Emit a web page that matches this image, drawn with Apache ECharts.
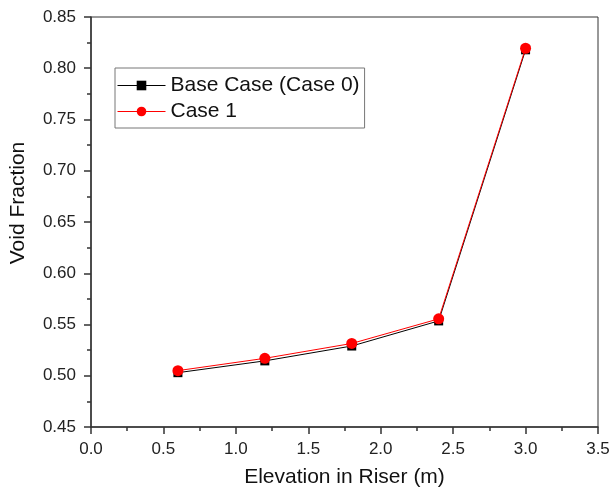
<!DOCTYPE html>
<html><head><meta charset="utf-8">
<script src="https://cdn.jsdelivr.net/npm/echarts@6/dist/echarts.min.js"></script>
<style>html,body{margin:0;padding:0;background:#fff}#c{width:613px;height:493px}</style>
</head><body><div id="c"></div>
<script>
const elevation = [0.6, 1.2, 1.8, 2.4, 3.0];
const baseCase = [0.503, 0.5145, 0.529, 0.5535, 0.818];
const case1 = [0.505, 0.517, 0.5315, 0.5555, 0.8195];
const seriesNames = ['Base Case (Case 0)', 'Case 1'];

const font = 'Liberation Sans, Arial, sans-serif';
const chart = echarts.init(document.getElementById('c'));
chart.setOption({
  animation: false,
  backgroundColor: '#fff',
  grid: { left: 88, right: 15, top: 17, bottom: 64, show: true, borderColor: '#333', borderWidth: 1, backgroundColor: 'transparent' },
  legend: {
    left: 115, top: 68, orient: 'vertical',
    itemWidth: 48, itemHeight: 12, itemGap: 5,
    padding: [7, 5, 6, 2],
    borderColor: '#777', borderWidth: 1,
    lineStyle: { width: 1 },
    textStyle: { fontFamily: font, fontSize: 21, color: '#111' },
    data: seriesNames
  },
  xAxis: {
    type: 'value', min: 0, max: 3.5, interval: 0.5,
    name: 'Elevation in Riser (m)', nameLocation: 'middle', nameGap: 40,
    nameTextStyle: { fontFamily: font, fontSize: 21, color: '#111' },
    axisLine: { show: true, lineStyle: { color: '#333', width: 1.5 } },
    axisTick: { show: true, inside: false, length: 7, lineStyle: { color: '#333', width: 1.5 } },
    minorTick: { show: true, splitNumber: 2, length: 4, lineStyle: { color: '#333', width: 1.5 } },
    splitLine: { show: false },
    axisLabel: { fontFamily: font, fontSize: 17, color: '#222', margin: 14, formatter: v => v.toFixed(1) }
  },
  yAxis: {
    type: 'value', min: 0.45, max: 0.85, interval: 0.05,
    name: 'Void Fraction', nameLocation: 'middle', nameGap: 62, nameRotate: 90,
    nameTextStyle: { fontFamily: font, fontSize: 21, color: '#111', padding: [0, 0, 0, 38] },
    axisLine: { show: true, lineStyle: { color: '#333', width: 1.5 } },
    axisTick: { show: true, inside: false, length: 7, lineStyle: { color: '#333', width: 1.5 } },
    minorTick: { show: true, splitNumber: 2, length: 4, lineStyle: { color: '#333', width: 1.5 } },
    splitLine: { show: false },
    axisLabel: { fontFamily: font, fontSize: 17, color: '#222', margin: 15, formatter: v => v.toFixed(2) }
  },
  series: [
    {
      name: seriesNames[0], type: 'line', data: elevation.map((x, i) => [x, baseCase[i]]),
      symbol: 'rect', symbolSize: 9, itemStyle: { color: '#000' },
      lineStyle: { color: '#000', width: 1 }, z: 2
    },
    {
      name: seriesNames[1], type: 'line', data: elevation.map((x, i) => [x, case1[i]]),
      symbol: 'circle', symbolSize: 11, itemStyle: { color: '#ff0000' },
      lineStyle: { color: '#ff0000', width: 1 }, z: 3
    }
  ]
});
</script></body></html>
